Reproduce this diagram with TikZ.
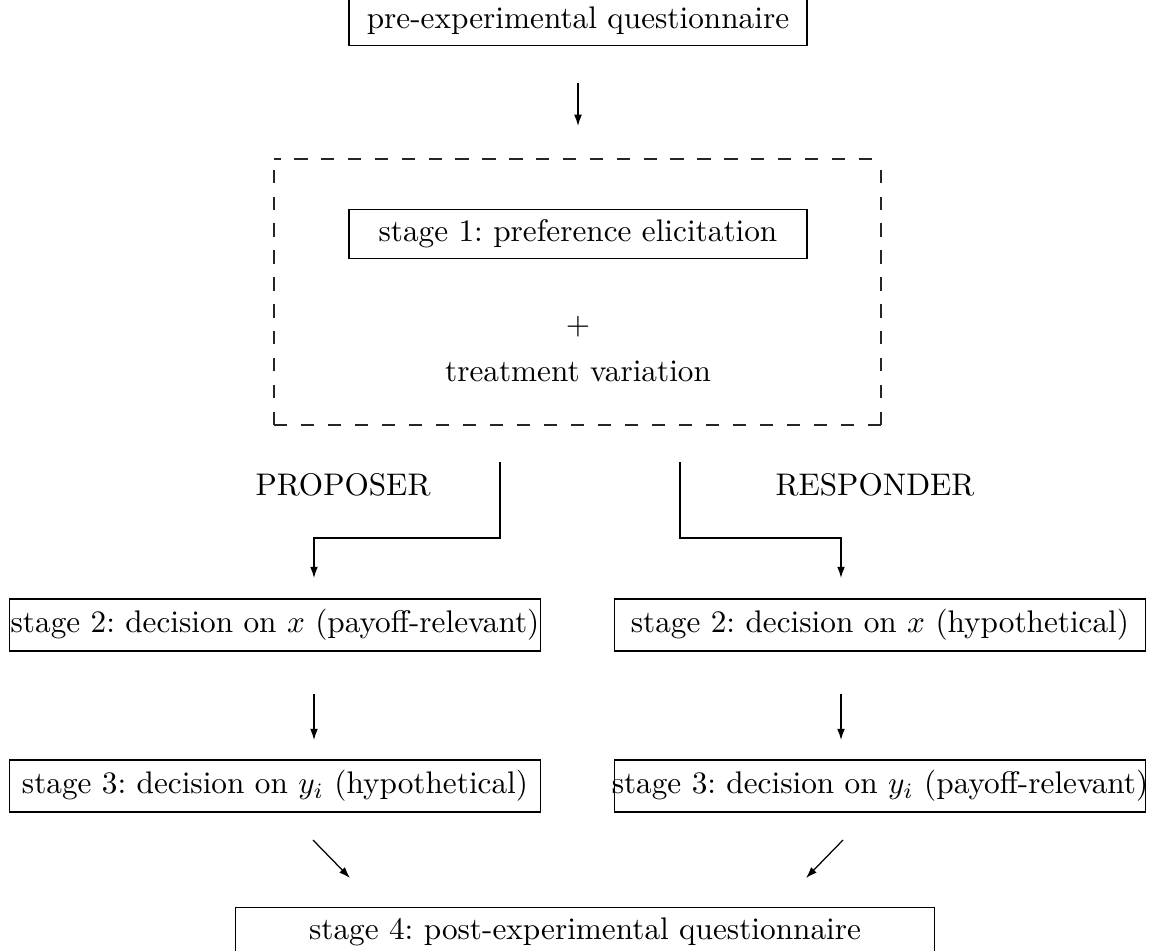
\documentclass[tikz,border=0pt]{standalone}
\usetikzlibrary{arrows.meta}
\tikzset{
  box/.style={draw, line width=0.4pt, inner xsep=0pt, inner ysep=3.3pt},
  lbl/.style={inner sep=0pt},
  arr/.style={line width=0.4pt, -{Latex[length=3.6pt,width=2.5pt]}},
  ln/.style={line width=0.4pt},
  dsh/.style={line width=0.4pt, black!85},
}
\begin{document}
\frenchspacing
\begin{tikzpicture}[x=0.32pt,y=-0.32pt]
\useasboundingbox (0,0) rectangle (1160,950);
% top
\node[box] (pre) at (578,21) {\makebox[146.6pt]{pre-experimental questionnaire}};
\coordinate (a1s) at (578,83);
\coordinate (a1e) at (578,126);
\draw[arr] (a1s) -- (a1e);
% dashed frame
\coordinate (dtl) at (274,159);
\coordinate (dtr) at (881,159);
\coordinate (dbl) at (274,425);
\coordinate (dbr) at (881,425);
\draw[dsh, dash pattern=on 4.3pt off 4.3pt, dash phase=2.15pt] (dtl) -- (dtr);
\draw[dsh, dash pattern=on 4.317pt off 4.317pt] (dbl) -- (dbr);
\draw[dsh, dash pattern=on 4.3pt off 4.3pt] (dbl) -- (dtl);
\draw[dsh, dash pattern=on 4.3pt off 4.3pt] (dbr) -- (dtr);
\node[box] (s1) at (578,234) {\makebox[146.6pt]{stage 1: preference elicitation}};
\node[lbl] (plus) at (578,327) {$+$};
\node[lbl] (treat) at (578,371) {treatment variation};
% roles
\node[lbl] (prop) at (343,485) {PROPOSER};
\node[lbl] (resp) at (875,485) {RESPONDER};
\coordinate (l0) at (500,462);
\coordinate (l1) at (500,538);
\coordinate (l2) at (314,538);
\coordinate (l3) at (314,578);
\coordinate (r0) at (680,462);
\coordinate (r1) at (680,538);
\coordinate (r2) at (841,538);
\coordinate (r3) at (841,578);
\draw[arr] (l0) -- (l1) -- (l2) -- (l3);
\draw[arr] (r0) -- (r1) -- (r2) -- (r3);
% stage 2
\node[box] (s2l) at (275,625) {\makebox[170pt]{stage 2: decision on $x$ (payoff-relevant)}};
\node[box] (s2r) at (880,625) {\makebox[170pt]{stage 2: decision on $x$ (hypothetical)}};
\coordinate (al0) at (314,694);
\coordinate (al1) at (314,740);
\coordinate (ar0) at (841,694);
\coordinate (ar1) at (841,740);
\draw[arr] (al0) -- (al1);
\draw[arr] (ar0) -- (ar1);
% stage 3
\node[box] (s3l) at (275,786) {\makebox[170pt]{stage 3: decision on $y_i$ (hypothetical)}};
\node[box] (s3r) at (880,786) {\makebox[170pt]{stage 3: decision on $y_i$ (payoff-relevant)}};
\coordinate (dl0) at (313,840);
\coordinate (dl1) at (350,878);
\coordinate (dr0) at (843,840);
\coordinate (dr1) at (806,878);
\draw[arr] (dl0) -- (dl1);
\draw[arr] (dr0) -- (dr1);
% stage 4
\node[box] (s4) at (585,932) {\makebox[223.7pt]{stage 4: post-experimental questionnaire}};
\end{tikzpicture}
\end{document}
